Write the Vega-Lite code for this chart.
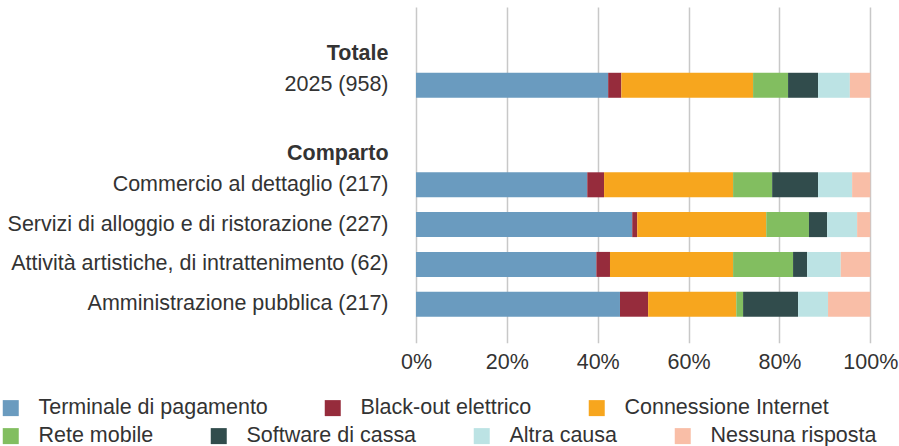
{
  "$schema": "https://vega.github.io/schema/vega-lite/v6.json",
  "autosize": {"type": "none"},
  "padding": {"left": 416, "top": 7, "right": 29, "bottom": 103},
  "width": 454.3,
  "height": 335.7,
  "config": {
    "view": {"stroke": null},
    "font": "Liberation Sans",
    "axis": {"labelFont": "Liberation Sans", "labelColor": "#333333", "labelFontSize": 21.5},
    "legend": {
      "title": null,
      "orient": "none",
      "direction": "horizontal",
      "symbolType": "square",
      "symbolSize": 256,
      "symbolStrokeWidth": 0,
      "labelFont": "Liberation Sans",
      "labelFontSize": 21.5,
      "labelColor": "#333333",
      "labelOffset": 17,
      "columnPadding": 54,
      "padding": 0,
      "labelLimit": 600
    }
  },
  "data": {
    "values": [
      {"r": "2025 (958)", "c": "Terminale di pagamento", "k": 1, "v": 42.3},
      {"r": "2025 (958)", "c": "Black-out elettrico", "k": 2, "v": 2.9},
      {"r": "2025 (958)", "c": "Connessione Internet", "k": 3, "v": 29.0},
      {"r": "2025 (958)", "c": "Rete mobile", "k": 4, "v": 7.7},
      {"r": "2025 (958)", "c": "Software di cassa", "k": 5, "v": 6.6},
      {"r": "2025 (958)", "c": "Altra causa", "k": 6, "v": 7.0},
      {"r": "2025 (958)", "c": "Nessuna risposta", "k": 7, "v": 4.5},
      {"r": "Commercio al dettaglio (217)", "c": "Terminale di pagamento", "k": 1, "v": 37.7},
      {"r": "Commercio al dettaglio (217)", "c": "Black-out elettrico", "k": 2, "v": 3.7},
      {"r": "Commercio al dettaglio (217)", "c": "Connessione Internet", "k": 3, "v": 28.4},
      {"r": "Commercio al dettaglio (217)", "c": "Rete mobile", "k": 4, "v": 8.6},
      {"r": "Commercio al dettaglio (217)", "c": "Software di cassa", "k": 5, "v": 10.1},
      {"r": "Commercio al dettaglio (217)", "c": "Altra causa", "k": 6, "v": 7.5},
      {"r": "Commercio al dettaglio (217)", "c": "Nessuna risposta", "k": 7, "v": 4.0},
      {"r": "Servizi di alloggio e di ristorazione (227)", "c": "Terminale di pagamento", "k": 1, "v": 47.6},
      {"r": "Servizi di alloggio e di ristorazione (227)", "c": "Black-out elettrico", "k": 2, "v": 1.1},
      {"r": "Servizi di alloggio e di ristorazione (227)", "c": "Connessione Internet", "k": 3, "v": 28.4},
      {"r": "Servizi di alloggio e di ristorazione (227)", "c": "Rete mobile", "k": 4, "v": 9.4},
      {"r": "Servizi di alloggio e di ristorazione (227)", "c": "Software di cassa", "k": 5, "v": 4.0},
      {"r": "Servizi di alloggio e di ristorazione (227)", "c": "Altra causa", "k": 6, "v": 6.6},
      {"r": "Servizi di alloggio e di ristorazione (227)", "c": "Nessuna risposta", "k": 7, "v": 2.9},
      {"r": "Attività artistiche, di intrattenimento (62)", "c": "Terminale di pagamento", "k": 1, "v": 39.7},
      {"r": "Attività artistiche, di intrattenimento (62)", "c": "Black-out elettrico", "k": 2, "v": 3.0},
      {"r": "Attività artistiche, di intrattenimento (62)", "c": "Connessione Internet", "k": 3, "v": 27.1},
      {"r": "Attività artistiche, di intrattenimento (62)", "c": "Rete mobile", "k": 4, "v": 13.2},
      {"r": "Attività artistiche, di intrattenimento (62)", "c": "Software di cassa", "k": 5, "v": 3.1},
      {"r": "Attività artistiche, di intrattenimento (62)", "c": "Altra causa", "k": 6, "v": 7.4},
      {"r": "Attività artistiche, di intrattenimento (62)", "c": "Nessuna risposta", "k": 7, "v": 6.5},
      {"r": "Amministrazione pubblica (217)", "c": "Terminale di pagamento", "k": 1, "v": 44.9},
      {"r": "Amministrazione pubblica (217)", "c": "Black-out elettrico", "k": 2, "v": 6.2},
      {"r": "Amministrazione pubblica (217)", "c": "Connessione Internet", "k": 3, "v": 19.4},
      {"r": "Amministrazione pubblica (217)", "c": "Rete mobile", "k": 4, "v": 1.5},
      {"r": "Amministrazione pubblica (217)", "c": "Software di cassa", "k": 5, "v": 12.1},
      {"r": "Amministrazione pubblica (217)", "c": "Altra causa", "k": 6, "v": 6.6},
      {"r": "Amministrazione pubblica (217)", "c": "Nessuna risposta", "k": 7, "v": 9.3}
    ]
  },
  "transform": [
    {"stack": "v", "groupby": ["r"], "sort": [{"field": "k", "order": "ascending"}], "as": ["x0", "x1"]}
  ],
  "encoding": {
    "y": {
      "field": "r",
      "type": "nominal",
      "scale": {
        "domain": ["_0", "Totale", "_a", "2025 (958)", "_b", "_c", "Comparto", "_d", "Commercio al dettaglio (217)", "_e", "Servizi di alloggio e di ristorazione (227)", "_f", "Attività artistiche, di intrattenimento (62)", "_g", "Amministrazione pubblica (217)", "_h"],
        "paddingInner": 0,
        "paddingOuter": 0.433
      },
      "axis": {
        "title": null,
        "domain": false,
        "ticks": false,
        "tickSize": 0,
        "labelPadding": 28,
        "labelLimit": 600,
        "labelExpr": "indexof(datum.value, '_') == 0 ? '' : datum.value",
        "labelFontWeight": {"condition": {"test": "datum.value == 'Totale' || datum.value == 'Comparto'", "value": "bold"}, "value": "normal"},
        "labelOffset": {"condition": {"test": "datum.value == 'Totale' || datum.value == 'Comparto'", "value": 9}, "value": 0}
      }
    },
    "x": {
      "field": "x0",
      "type": "quantitative",
      "scale": {"domain": [0, 100], "nice": false},
      "axis": {
        "title": null,
        "domain": false,
        "ticks": false,
        "tickSize": 0,
        "grid": true,
        "gridColor": "#c8c8c8",
        "gridWidth": 1.5,
        "values": [0, 20, 40, 60, 80, 100],
        "labelPadding": 9,
        "labelFlush": false,
        "labelExpr": "datum.value + '%'"
      }
    },
    "x2": {"field": "x1"}
  },
  "layer": [
    {
      "transform": [{"filter": "datum.k <= 3"}],
      "mark": {"type": "bar", "size": 25},
      "encoding": {
        "color": {
          "field": "c",
          "type": "nominal",
          "scale": {
            "domain": ["Terminale di pagamento", "Black-out elettrico", "Connessione Internet"],
            "range": ["#6a9bbf", "#962c3c", "#f7a61e"]
          },
          "legend": {"legendX": -416, "legendY": 390}
        }
      }
    },
    {
      "transform": [{"filter": "datum.k > 3"}],
      "mark": {"type": "bar", "size": 25},
      "encoding": {
        "color": {
          "field": "c",
          "type": "nominal",
          "scale": {
            "domain": ["Rete mobile", "Software di cassa", "Altra causa", "Nessuna risposta"],
            "range": ["#82be60", "#314c4c", "#bce3e4", "#f9bea7"]
          },
          "legend": {"legendX": -416, "legendY": 418}
        }
      }
    }
  ],
  "resolve": {"scale": {"color": "independent"}}
}
